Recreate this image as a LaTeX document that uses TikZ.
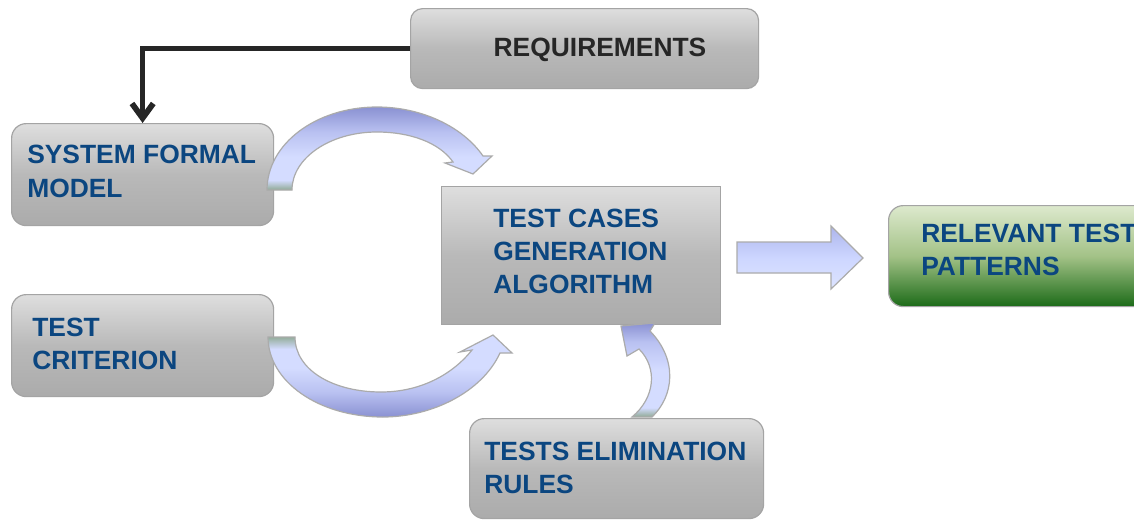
\documentclass[tikz,border=0pt]{standalone}
\usepackage{fontspec}
\setmainfont{Liberation Sans}
\usetikzlibrary{arrows.meta}
\definecolor{txtblue}{HTML}{0B4680}
\definecolor{txtdark}{HTML}{262626}
\definecolor{boxedge}{HTML}{A4A4A4}
\definecolor{gtop}{HTML}{DEDEDE}
\definecolor{gmid}{HTML}{B9B9B9}
\definecolor{gbot}{HTML}{ABABAB}
\definecolor{grtop}{HTML}{DDE9CD}
\definecolor{grmid}{HTML}{A3C287}
\definecolor{grbot}{HTML}{1C6B18}
\definecolor{adark}{HTML}{8A91D2}
\definecolor{amid}{HTML}{B9C1F1}
\definecolor{alight}{HTML}{D4DCFF}
\definecolor{atail}{HTML}{8FA994}
\definecolor{aedge}{HTML}{ABABAB}
\definecolor{sdark}{HTML}{ADB5EC}
\definecolor{smid}{HTML}{CDD6FF}
\definecolor{slight}{HTML}{DDE4FF}
\pgfdeclareverticalshading{shAone}{100bp}{color(0bp)=(atail); color(25bp)=(atail); color(31bp)=(alight); color(45bp)=(alight); color(60bp)=(amid); color(75bp)=(adark); color(100bp)=(adark)}
\pgfdeclareverticalshading{shAtwo}{100bp}{color(0bp)=(adark); color(25bp)=(adark); color(40bp)=(amid); color(55bp)=(alight); color(75bp)=(alight); color(100bp)=(alight)}
\pgfdeclareverticalshading{shAthree}{100bp}{color(0bp)=(atail); color(25bp)=(atail); color(30bp)=(alight); color(50bp)=(alight); color(65bp)=(amid); color(75bp)=(adark); color(100bp)=(adark)}
\newcommand\pathAtwo{(268,337) .. controls (268,381) and (318,417) .. (383,417)
  .. controls (432,417) and (482,392) .. (500,353)
  -- (512,353) -- (493,335) -- (460,352) -- (472,350)
  .. controls (452,375) and (420,392) .. (381,392)
  .. controls (333,392) and (295,370) .. (295,337) -- cycle}
\begin{document}
\begin{tikzpicture}[x=0.75pt,y=-0.75pt,
  graybox/.style={draw=boxedge, line width=0.9pt, top color=gtop, bottom color=gbot, middle color=gmid, inner sep=0pt, anchor=north west},
  greenbox/.style={draw=boxedge, line width=0.9pt, top color=grtop, bottom color=grbot, middle color=grmid, inner sep=0pt, anchor=north west},
  bluetext/.style={text=txtblue, font=\fontsize{19.8pt}{24.9pt}\selectfont\bfseries, align=left, inner sep=0pt, anchor=west},
  darktext/.style={text=txtdark, font=\fontsize{19.8pt}{24.9pt}\selectfont\bfseries, inner sep=0pt, anchor=base},
  blockarrow/.style={draw=aedge, line width=0.9pt},
  reqarrow/.style={draw=txtdark, line width=4.3pt, -{Straight Barb[length=11pt,width=16pt]}}
]
\useasboundingbox (0,0) rectangle (1134,521);
\fill[white] (0,0) rectangle (1134,521);
\clip (0,0) rectangle (1134,521);

% boxes
\node[graybox, rounded corners=9pt, minimum width=261pt, minimum height=60pt] (req) at (410,8) {};
\node[graybox, rounded corners=11pt, minimum width=196.5pt, minimum height=76.5pt] (sfm) at (11,123) {};
\node[graybox, rounded corners=11pt, minimum width=196.5pt, minimum height=76.5pt] (crit) at (11,294) {};
\node[graybox, minimum width=209.25pt, minimum height=103.5pt] (gen) at (441,186) {};
\node[graybox, rounded corners=11pt, minimum width=220.5pt, minimum height=75pt] (elim) at (469,418) {};
\node[greenbox, rounded corners=11pt, minimum width=196.5pt, minimum height=75.75pt] (rel) at (888,205) {};

% texts
\node[darktext] (reqt) at (600,56.5) {REQUIREMENTS};
\node[bluetext] (sfmt) at (27,171.5) {SYSTEM FORMAL\\MODEL};
\node[bluetext] (critt) at (32,344) {TEST\\CRITERION};
\node[bluetext] (gent) at (493,251.5) {TEST CASES\\GENERATION\\ALGORITHM};
\node[bluetext] (elimt) at (484,468) {TESTS ELIMINATION\\RULES};
\node[bluetext] (relt) at (921,250) {RELEVANT TEST\\PATTERNS};

% requirements connector
\draw[reqarrow] (req.west) -| (sfm.north);

% curved arrow: system formal model -> generation
\path[blockarrow, shading=shAone]
  (267,190) .. controls (267,144) and (316,107) .. (377,107)
  .. controls (422,107) and (463,127) .. (483,156)
  -- (492,156) -- (473,174) -- (445,163) -- (453,162)
  .. controls (439,142) and (409,132) .. (377,132)
  .. controls (330,132) and (292,158) .. (292,190) -- cycle;

% curved arrow: test criterion -> generation
\shade[shading=shAtwo] \pathAtwo;
\begin{scope}
  \clip \pathAtwo;
  \shade[top color=atail, bottom color=alight] (262,336) rectangle (302,349);
\end{scope}
\draw[blockarrow] \pathAtwo;

% curved arrow: elimination rules -> generation
\path[blockarrow, shading=shAthree]
  (652,417) .. controls (674,396) and (678,360) .. (650,331)
  -- (655,323) -- (621,326) -- (627,356) -- (639,349)
  .. controls (658,368) and (655,398) .. (632,417) -- cycle;

% straight arrow: generation -> relevant test patterns
\path[blockarrow, top color=sdark, bottom color=slight, middle color=smid]
  (737,242) -- (831,242) -- (831,226) -- (863,258) -- (831,289) -- (831,273) -- (737,273) -- cycle;
\end{tikzpicture}
\end{document}
